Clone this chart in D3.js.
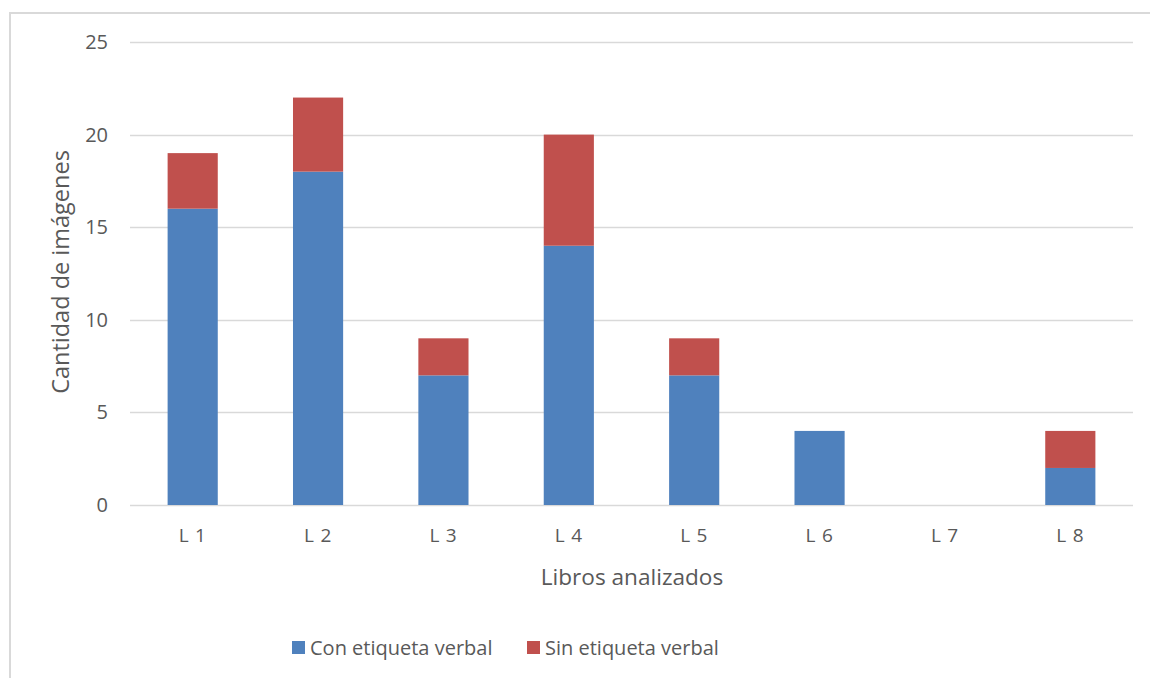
<!DOCTYPE html>
<html>
<head>
<meta charset="utf-8">
<script src="https://cdn.jsdelivr.net/npm/d3@7"></script>
<style>
  html, body { margin: 0; padding: 0; background: #fff; }
  svg { display: block; }
  text { font-family: "Open Sans", "Liberation Sans", sans-serif; fill: #595959; }
</style>
</head>
<body>
<svg id="chart" width="1150" height="678"></svg>
<script>
// Images per analysed book, split by whether they carry a verbal label
const categories = ["L 1", "L 2", "L 3", "L 4", "L 5", "L 6", "L 7", "L 8"];
const conEtiqueta = [16, 18, 7, 14, 7, 4, 0, 2];
const sinEtiqueta = [3, 4, 2, 6, 2, 0, 0, 2];
const seriesNames = ["Con etiqueta verbal", "Sin etiqueta verbal"];
const seriesColors = ["#4F81BD", "#C0504D"];
const yTicks = [0, 5, 10, 15, 20, 25];

const svg = d3.select("#chart");

// chart frame
svg.append("path")
  .attr("d", "M10,678 L10,13 L1150,13")
  .attr("fill", "none")
  .attr("stroke", "#d9d9d9")
  .attr("stroke-width", 2);

const plot = { left: 130, right: 1133, top: 42, bottom: 505 };

const x = d3.scaleBand()
  .domain(categories)
  .range([plot.left, plot.right])
  .paddingInner(0.6)
  .paddingOuter(0.3);

const y = d3.scaleLinear()
  .domain([0, 25])
  .range([plot.bottom, plot.top]);

// gridlines
svg.append("g")
  .selectAll("line")
  .data(yTicks)
  .join("line")
  .attr("x1", plot.left)
  .attr("x2", plot.right)
  .attr("y1", d => Math.round(y(d)) + 0.5)
  .attr("y2", d => Math.round(y(d)) + 0.5)
  .attr("stroke", "#d9d9d9")
  .attr("stroke-width", 1.3);

// y tick labels
const yAxis = d3.axisLeft(y).tickValues(yTicks).tickSize(0).tickPadding(0);
const yg = svg.append("g")
  .attr("transform", `translate(${plot.left - 22},0)`)
  .call(yAxis);
yg.select(".domain").remove();
yg.selectAll("text")
  .attr("font-size", 20)
  .attr("font-family", null)
  .style("fill", "#595959");

// stacked bars
const rows = categories.map((c, i) => ({ cat: c, con: conEtiqueta[i], sin: sinEtiqueta[i] }));
const stack = d3.stack().keys(["con", "sin"]);
const layers = stack(rows);

svg.append("g")
  .selectAll("g")
  .data(layers)
  .join("g")
  .attr("fill", (d, i) => seriesColors[i])
  .selectAll("rect")
  .data(d => d)
  .join("rect")
  .attr("x", d => x(d.data.cat))
  .attr("width", x.bandwidth())
  .attr("y", d => y(d[1]))
  .attr("height", d => y(d[0]) - y(d[1]));

// x tick labels
const xAxis = d3.axisBottom(x).tickSize(0).tickPadding(0);
const xg = svg.append("g")
  .attr("transform", `translate(0,${plot.bottom + 23})`)
  .call(xAxis);
xg.select(".domain").remove();
xg.selectAll("text")
  .attr("font-size", 19)
  .attr("font-family", null)
  .attr("letter-spacing", 0.8)
  .style("fill", "#595959");

// axis titles
svg.append("text")
  .attr("x", 632)
  .attr("y", 585)
  .attr("text-anchor", "middle")
  .attr("font-size", 22.6)
  .text("Libros analizados");

svg.append("text")
  .attr("transform", "translate(69,272) rotate(-90)")
  .attr("text-anchor", "middle")
  .attr("font-size", 23.5)
  .text("Cantidad de imágenes");

// legend
const legendX = [292, 527];
const legend = svg.append("g")
  .selectAll("g")
  .data(seriesNames)
  .join("g")
  .attr("transform", (d, i) => `translate(${legendX[i]},641)`);
legend.append("rect")
  .attr("width", 13)
  .attr("height", 13)
  .attr("fill", (d, i) => seriesColors[i]);
legend.append("text")
  .attr("x", 18)
  .attr("y", 14)
  .attr("font-size", 20)
  .text(d => d);
</script>
</body>
</html>
